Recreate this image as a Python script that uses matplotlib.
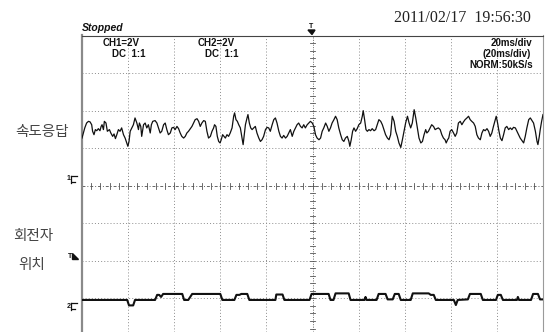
import matplotlib
matplotlib.use("Agg")
import matplotlib.pyplot as plt
from matplotlib.patches import Polygon

# scope settings
ms_per_div = 20
ch1_v_per_div = 2
ch2_v_per_div = 2
ch1_ground_div = 0.0
ch2_ground_div = -3.2
trig_level_div = -1.87

# CH1: speed response (time ms, volts)
speed_t = [
    0.0, 0.6, 1.2, 2.0, 2.8, 3.5, 4.2, 4.6, 5.2, 5.8, 6.4, 7.1, 7.8, 8.3, 8.7, 9.3, 9.7, 10.4, 11.0, 11.9,
    12.5, 13.3, 13.9, 14.5, 15.1, 15.8, 16.5, 17.2, 18.0, 18.7, 19.4, 19.9, 20.4, 20.9, 21.6, 22.3, 23.0, 23.8,
    24.5, 24.9, 25.5, 25.9, 26.7, 27.4, 28.1, 28.8, 29.6, 30.1, 30.7, 31.7, 32.5, 33.2, 33.9, 34.6, 35.4, 36.1,
    36.8, 37.5, 38.3, 39.0, 39.7, 40.4, 41.2, 41.9, 42.6, 43.3, 44.1, 44.8, 45.5, 46.2, 47.0, 47.7, 48.4,
    49.1, 49.9, 50.6, 51.3, 52.0, 52.8, 53.5, 54.2, 54.9, 55.7, 56.4, 57.1, 57.5, 58.1, 58.7, 59.3, 59.9, 60.4,
    61.0, 61.6, 62.2, 62.9, 63.6, 64.3, 65.1, 65.8, 66.2, 66.8, 67.4, 68.0, 68.7, 69.4, 69.9, 70.3, 70.9, 71.6,
    72.0, 72.6, 73.2, 73.8, 74.5, 75.2, 75.9, 76.7, 77.4, 78.1, 78.8, 79.6, 80.3, 81.0, 81.7, 82.5, 83.2, 83.9,
    84.6, 85.4, 86.1, 86.8, 87.5, 88.3, 89.0, 89.7, 90.4, 91.2, 91.9, 92.6, 93.3, 94.0, 94.8, 95.5, 96.2, 96.9,
    97.7, 98.4,
    99.1, 99.9, 100.6, 101.3, 102.0, 102.8, 103.5, 104.2, 104.9, 105.7, 106.4, 107.1, 107.8, 108.5, 109.3,
    110.0, 110.7, 111.4, 112.2, 112.9, 113.6, 114.3, 115.1, 115.8, 116.2, 116.8, 117.4, 118.0, 118.7, 119.4,
    120.1, 120.9, 121.6, 122.0, 122.6, 123.2, 123.8, 124.5, 125.2, 125.9, 126.7, 127.4, 128.1, 128.8, 129.6,
    130.3, 131.0, 131.7, 132.5, 133.2, 133.9, 134.6, 135.4, 136.1, 136.8, 137.5, 138.3, 139.0, 139.7, 140.4,
    141.2, 141.9, 142.6, 143.3, 144.1, 144.8, 145.5, 146.2, 147.0, 147.7, 148.4, 149.1,
    149.6, 150.3, 151.0, 151.7, 152.5, 153.2, 153.9, 154.6, 155.4, 156.1, 156.8, 157.5, 158.0, 158.6, 159.1,
    159.7, 160.4, 161.2, 161.9, 162.6, 163.3, 164.1, 164.8, 165.5, 166.2, 167.0, 167.7, 168.4, 169.1, 169.9,
    170.6, 171.3, 172.0, 172.8, 173.5, 174.2, 174.9, 175.7, 176.4, 177.1, 177.8, 178.5, 179.3, 179.7, 180.3,
    180.9, 181.5, 182.2, 182.9, 183.6, 184.3, 185.1, 185.8, 186.5, 187.2, 188.0, 188.7, 189.4, 190.1, 190.9,
    191.6, 192.3, 193.0, 193.8, 194.5, 195.2, 195.9, 196.7, 197.4, 197.8, 198.4, 198.8, 199.4, 200.0,
]
speed_v = [
    2.54, 2.81, 3.08, 3.34, 3.43, 3.40, 3.25, 2.90, 2.72, 2.99, 2.93, 3.04, 2.93, 3.16, 3.25, 2.99, 3.43, 3.34, 2.90, 2.99,
    2.81, 2.63, 2.76, 2.51, 2.72, 2.99, 2.90, 3.08, 2.72, 2.54, 2.28, 2.10, 2.36, 2.90, 3.08, 3.25, 3.61, 3.34,
    2.99, 3.34, 3.16, 2.63, 3.25, 3.34, 3.08, 3.25, 2.81, 3.25, 3.43, 3.47, 3.34, 3.08, 2.81, 2.90, 3.25, 3.34,
    2.99, 2.72, 2.81, 3.08, 3.11, 2.99, 3.16, 3.04, 2.81, 2.63, 2.54, 2.63, 2.81, 2.90, 3.04, 3.16, 3.34,
    3.52, 3.57, 3.43, 3.16, 3.34, 3.47, 3.43, 2.90, 2.54, 2.63, 2.90, 3.08, 3.25, 3.16, 2.63, 2.36, 2.28, 2.45,
    2.72, 2.63, 2.54, 2.72, 2.63, 2.81, 3.08, 3.70, 3.88, 3.52, 3.43, 3.25, 3.08, 2.54, 2.19, 2.63, 3.25, 3.61,
    3.79, 3.34, 3.08, 2.99, 3.08, 3.16, 2.81, 2.54, 2.36, 2.45, 2.63, 2.99, 3.11, 3.08, 2.90, 3.25, 3.52, 3.61,
    3.34, 2.90, 2.63, 2.54, 2.68, 2.54, 2.63, 2.81, 2.99, 2.63, 2.90, 3.08, 3.25, 3.34, 3.16, 3.08, 3.25, 3.08,
    3.25, 3.34,
    3.43, 3.34, 3.16, 2.72, 2.54, 2.45, 2.54, 2.90, 3.08, 3.34, 3.16, 2.90, 3.08, 3.34, 3.52,
    3.70, 3.52, 3.08, 2.72, 2.45, 2.36, 2.54, 2.63, 2.36, 2.10, 2.45, 2.90, 3.08, 2.90, 3.04,
    3.25, 3.34, 3.70, 4.00, 3.52, 2.99, 2.90, 2.99, 2.93, 3.04, 2.93, 2.99, 3.25, 3.52, 3.43,
    3.25, 2.99, 2.72, 2.54, 2.45, 2.72, 3.70, 3.43, 2.90, 2.63, 2.28, 2.04, 2.45, 2.90, 3.34,
    3.70, 3.34, 3.08, 3.34, 4.05, 3.61, 3.08, 2.54, 2.28, 2.36, 2.72, 2.99,
    2.81, 2.90, 3.08, 3.25, 3.16, 2.99, 3.04, 3.08, 2.99, 2.72, 2.54, 2.45, 2.28, 2.45, 2.54,
    2.90, 2.99, 2.81, 2.63, 2.81, 3.34, 3.43, 3.25, 3.40, 3.52, 3.61, 3.70, 3.52, 3.43, 3.34,
    3.16, 2.72, 2.54, 2.45, 2.81, 2.99, 2.93, 3.04, 2.90, 2.63, 2.81, 3.16, 3.52, 3.70, 3.34,
    2.90, 2.54, 2.40, 2.72, 3.08, 3.16, 2.99, 3.08, 2.99, 3.11, 3.08, 2.90, 2.72, 2.54, 2.40,
    2.28, 2.63, 3.08, 3.52, 3.61, 3.47, 3.34, 2.90, 2.36, 2.19, 2.63, 2.99, 3.43, 3.79,
]

# CH2: rotor position (time ms, volts)
pos_t = [
    0.0, 19.6, 20.4, 22.2, 23.0, 31.7, 32.6, 33.5, 34.3, 35.2, 43.5, 44.3, 46.1, 47.8, 60.0, 60.9, 66.1, 67.0,
    68.3, 69.1, 71.7, 72.6, 83.9, 84.3, 87.0, 87.8, 98.7, 99.6, 107.0, 107.8, 109.1, 110.0, 115.7, 116.5,
    122.6, 123.0, 123.5, 127.8, 128.7, 131.7, 132.6, 134.8, 135.7, 137.4, 138.3, 142.6, 143.5, 150.4, 151.3,
    152.6, 153.5, 161.3, 162.2, 163.0, 167.4, 168.3, 173.0, 173.9, 179.6, 180.4, 181.7, 182.6, 188.7, 189.1,
    189.6, 194.8, 195.7, 197.8, 198.7, 200.0,
]
pos_v = [
    0.32, 0.32, 0.03, 0.03, 0.32, 0.32, 0.59, 0.59, 0.48, 0.64, 0.64, 0.32, 0.32, 0.64, 0.64, 0.32, 0.32, 0.59,
    0.59, 0.64, 0.64, 0.32, 0.32, 0.61, 0.61, 0.32, 0.32, 0.64, 0.64, 0.32, 0.32, 0.67, 0.67, 0.32,
    0.32, 0.48, 0.32, 0.32, 0.64, 0.64, 0.35, 0.35, 0.64, 0.64, 0.32, 0.32, 0.67, 0.67, 0.59,
    0.59, 0.32, 0.32, 0.05, 0.32, 0.35, 0.64, 0.64, 0.32, 0.32, 0.59, 0.59, 0.32, 0.32, 0.48,
    0.32, 0.32, 0.64, 0.64, 0.35, 0.35,
]

W, H = 546, 332
fig = plt.figure(figsize=(W / 100, H / 100), dpi=100)
fig.patch.set_facecolor("white")

# screen area: 10 x 8 divisions, bottom cut off by the image edge
ax = fig.add_axes([82 / W, 0, 461 / W, (H - 35.5) / H])
ax.set_xlim(0, 10 * ms_per_div)
ax.set_ylim(-3.893, 4)
ax.set_xticks([])
ax.set_yticks([])
ax.spines["bottom"].set_visible(False)
ax.spines["left"].set_color("#8a8a8a")
ax.spines["left"].set_linewidth(1.6)
ax.spines["top"].set_color("#444444")
ax.spines["top"].set_linewidth(0.8)
ax.spines["right"].set_color("#9a9a9a")
ax.spines["right"].set_linewidth(0.8)

grid_kw = dict(color="#8c8c8c", lw=0.7, ls=(0, (1, 2.2)), zorder=1)
for i in range(1, 10):
    if i != 5:
        ax.axvline(i * ms_per_div, **grid_kw)
for j in range(-3, 4):
    if j != 0:
        ax.axhline(j, **grid_kw)

# centre cross with 0.2 div ticks
ax.axvline(5 * ms_per_div, color="#666666", lw=0.7, ls=(0, (1, 1.5)), zorder=1)
ax.axhline(0, color="#666666", lw=0.7, ls=(0, (3, 2, 1, 2)), zorder=1)
k = -19
while k <= 20:
    y = k * 0.2
    ax.plot([5 * ms_per_div - 1.3, 5 * ms_per_div + 1.3], [y, y], color="#555555", lw=0.6, zorder=1)
    k += 1
for k in range(0, 51):
    x = k * 0.2 * ms_per_div
    ax.plot([x, x], [-0.08, 0.08], color="#555555", lw=0.6, zorder=1)

ch1_y = [ch1_ground_div + v / ch1_v_per_div for v in speed_v]
ch2_y = [ch2_ground_div + v / ch2_v_per_div for v in pos_v]
ax.plot(speed_t, ch1_y, color="#111111", lw=0.9, zorder=3)
ax.plot(pos_t, ch2_y, color="#111111", lw=1.5, zorder=3)

# overlay in pixel coordinates for screen annotations
ov = fig.add_axes([0, 0, 1, 1], facecolor="none")
ov.set_xlim(0, W)
ov.set_ylim(H, 0)
ov.axis("off")

mono = dict(family="Liberation Sans", weight="bold", fontsize=7, color="#111111", va="center")
ov.text(82, 31, "Stopped", family="Liberation Sans", weight="bold", style="italic",
        fontsize=7.5, color="#111111", va="baseline", ha="left")
ov.text(103, 43, "CH1=2V", ha="left", **mono)
ov.text(112, 54, "DC  1:1", ha="left", **mono)
ov.text(198, 43, "CH2=2V", ha="left", **mono)
ov.text(205, 54, "DC  1:1", ha="left", **mono)
ov.text(532, 43, "20ms/div", ha="right", **mono)
ov.text(531, 54, "(20ms/div)", ha="right", **mono)
ov.text(533, 65, "NORM:50kS/s", ha="right", **mono)
ov.text(531, 18, "2011/02/17  19:56:30", family="Liberation Serif", fontsize=11.5,
        color="#222222", ha="right", va="center")

kr = dict(family="Noto Sans CJK KR", weight="light", fontsize=10.5, color="#444444",
          ha="center", va="center")
ov.text(42, 132, "속도응답", **kr)
ov.text(33, 236, "회전자", **kr)
ov.text(32, 265, "위치", **kr)


def ground_mark(num, y):
    ov.text(68.5, y - 4, num, family="Liberation Sans", weight="bold", fontsize=5,
            ha="center", va="center", color="#111111")
    ov.plot([71, 71], [y - 7, y], color="#111111", lw=0.9)
    ov.plot([71, 77], [y - 7, y - 7], color="#111111", lw=0.9)
    ov.plot([72, 75], [y - 1, y - 1], color="#111111", lw=0.9)


ground_mark("1", 183)
ground_mark("2", 310)

# trigger level and trigger position markers
ov.text(70, 256, "T", family="Liberation Sans", weight="bold", fontsize=5,
        ha="center", va="center", color="#111111")
ov.add_patch(Polygon([[72, 252.5], [72, 259], [78, 259]], closed=True, color="#111111"))
ov.text(311, 26, "T", family="Liberation Sans", weight="bold", fontsize=5,
        ha="center", va="center", color="#111111")
ov.add_patch(Polygon([[308, 30], [315, 30], [312, 34.5]], closed=True, color="#111111"))

fig.savefig("out.png", dpi=100)
